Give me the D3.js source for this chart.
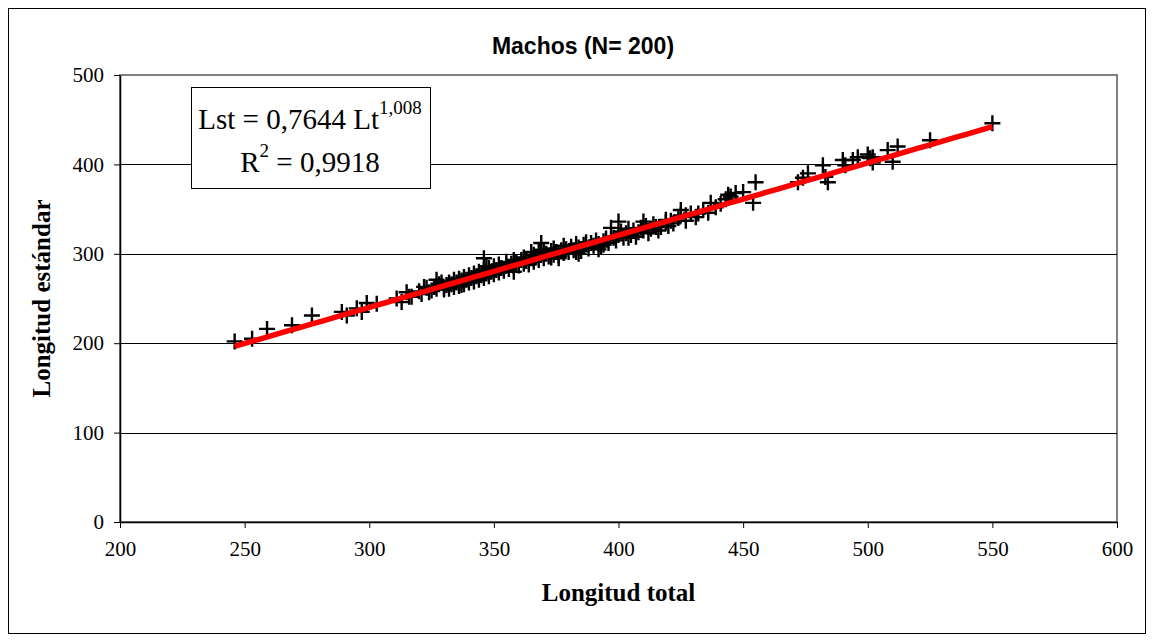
<!DOCTYPE html>
<html>
<head>
<meta charset="utf-8">
<script src="https://cdn.jsdelivr.net/npm/d3@7"></script>
<style>
  body { margin: 0; background: #fff; }
  svg { display: block; }
</style>
</head>
<body>
<svg></svg>
<script>
const width = 1154;
const height = 642;

// Longitud total (x) y longitud estándar (y)
const longitudTotal = [
  246, 253, 259, 269, 277, 289, 291, 295, 297, 299, 303, 311, 313, 315, 317,
  316, 322, 327, 330, 346, 369, 365,
  400, 397, 410, 417, 419, 425, 425, 394, 383, 376,
  427, 432, 437, 444, 447, 450, 454, 455, 472, 474, 476, 482, 484, 483,
  490, 491, 494, 496, 500, 502, 501, 502, 508, 512, 510, 525, 550,
  320, 321, 323, 324, 325, 326, 327, 328, 329, 330, 331, 332, 332, 333, 334,
  334, 335, 336, 336, 337, 338, 338, 339, 340, 340, 341, 342, 342, 343, 344,
  344, 345, 346, 346, 347, 348, 348, 349, 350, 350, 351, 352, 352, 353, 354,
  355, 355, 356, 357, 358, 358, 359, 360, 361, 362, 362, 363, 364, 365, 366,
  366, 367, 368, 368, 369, 370, 370, 371, 372, 373, 374, 374, 375, 376, 377,
  378, 378, 379, 380, 381, 382, 383, 384, 385, 386, 387, 388, 389, 390, 391,
  392, 393, 394, 395, 396, 398, 399, 400, 401, 402, 403, 404, 405, 406, 407,
  408, 409, 410, 411, 412, 413, 414, 415, 416, 419, 420, 421, 422, 424, 427,
  429, 431, 434, 436, 439, 441, 443, 445, 337, 384, 358, 392, 373, 347, 404
];
const longitudEstandar = [
  202, 205, 216, 220, 231, 235, 231, 239, 235, 245, 244, 250, 246, 257, 252,
  252, 263, 271, 260, 295, 312, 302,
  336, 329, 336, 330, 338, 343, 349, 310, 302, 295,
  343, 345, 357, 366, 368, 369, 357, 380, 380, 385, 390, 399, 380, 386,
  405, 399, 405, 408, 411, 408, 407, 402, 416, 420, 403, 427, 446,
  258, 255, 262, 257, 259, 263, 261, 266, 268, 262, 265, 261, 268, 266, 263,
  271, 268, 264, 272, 270, 266, 274, 271, 268, 276, 273, 269, 278, 275, 271,
  280, 276, 273, 282, 278, 275, 284, 280, 277, 286, 282, 279, 288, 284, 281,
  287, 291, 283, 289, 286, 293, 290, 287, 293, 289, 296, 292, 288, 295, 299,
  291, 297, 293, 302, 299, 295, 304, 300, 297, 303, 299, 306, 302, 298, 304,
  301, 309, 305, 302, 308, 304, 311, 307, 303, 310, 313, 306, 312, 309, 315,
  311, 308, 314, 317, 312, 318, 315, 321, 325, 318, 323, 328, 321, 326, 319,
  324, 329, 326, 331, 323, 328, 333, 330, 326, 335, 331, 337, 334, 340, 337,
  345, 341, 349, 346, 352, 356, 361, 364, 265, 300, 280, 305, 296, 286, 318
];
const xTicks = [200, 250, 300, 350, 400, 450, 500, 550, 600];
const yTicks = [0, 100, 200, 300, 400, 500];

// Ajuste potencial: Lst = 0,7644 Lt^1,008
const coefA = 0.7644;
const coefB = 1.008;

const points = longitudTotal.map((d, i) => ({ x: d, y: longitudEstandar[i] }));

const plot = { left: 120, right: 1117, top: 75, bottom: 522 };

const svg = d3.select('svg')
  .attr('width', width)
  .attr('height', height);

const xScale = d3.scaleLinear()
  .domain([200, 600])
  .range([plot.left, plot.right]);

const yScale = d3.scaleLinear()
  .domain([0, 500])
  .range([plot.bottom, plot.top]);

// ====================================
// Frame
// ====================================
svg.append('rect')
  .attr('x', 8.5)
  .attr('y', 8.5)
  .attr('width', width - 17)
  .attr('height', height - 17)
  .attr('fill', '#fff')
  .attr('stroke', '#000');

svg.append('rect')
  .attr('x', plot.left)
  .attr('y', plot.top)
  .attr('width', plot.right - plot.left)
  .attr('height', plot.bottom - plot.top)
  .attr('fill', '#fff')
  .attr('stroke', '#808080')
  .attr('stroke-width', 2);

// gridlines
svg.append('g')
  .selectAll('line')
  .data(yTicks.filter(d => d > 0 && d < 500))
  .enter()
  .append('line')
  .attr('x1', plot.left)
  .attr('x2', plot.right)
  .attr('y1', d => Math.round(yScale(d)) + 0.5)
  .attr('y2', d => Math.round(yScale(d)) + 0.5)
  .attr('stroke', '#000');

// ====================================
// Axes
// ====================================
const xAxis = d3.axisBottom(xScale)
  .tickValues(xTicks)
  .tickSize(6)
  .tickPadding(13)
  .tickSizeOuter(0);

const yAxis = d3.axisLeft(yScale)
  .tickValues(yTicks)
  .tickSize(6)
  .tickPadding(10)
  .tickSizeOuter(0);

const gx = svg.append('g')
  .attr('transform', `translate(0, ${plot.bottom})`)
  .call(xAxis);

const gy = svg.append('g')
  .attr('transform', `translate(${plot.left}, 0)`)
  .call(yAxis);

[gx, gy].forEach(g => {
  g.select('.domain').attr('stroke', '#000').attr('stroke-width', 1.5);
  g.selectAll('.tick line').attr('stroke', '#000');
  g.selectAll('.tick text')
    .attr('font-family', '"Liberation Serif", "Times New Roman", serif')
    .attr('font-size', 21)
    .attr('fill', '#000');
});

// ====================================
// Points and trend line
// ====================================
const plus = 'M-8,0H8M0,-8V8';

svg.append('g')
  .selectAll('path')
  .data(points)
  .enter()
  .append('path')
  .attr('d', plus)
  .attr('transform', d => `translate(${xScale(d.x)}, ${yScale(d.y)})`)
  .attr('stroke', '#000')
  .attr('stroke-width', 2.4)
  .attr('fill', 'none');

const xExtent = d3.extent(longitudTotal);
const trend = d3.range(0, 61).map(i => {
  const x = xExtent[0] + (xExtent[1] - xExtent[0]) * i / 60;
  return { x, y: coefA * Math.pow(x, coefB) };
});

svg.append('path')
  .datum(trend)
  .attr('d', d3.line().x(d => xScale(d.x)).y(d => yScale(d.y)))
  .attr('fill', 'none')
  .attr('stroke', '#ff0000')
  .attr('stroke-width', 5.5);

// ====================================
// Equation box
// ====================================
svg.append('rect')
  .attr('x', 191.5)
  .attr('y', 87.5)
  .attr('width', 239)
  .attr('height', 101)
  .attr('fill', '#fff')
  .attr('stroke', '#000');

const eq1 = svg.append('text')
  .attr('x', 310)
  .attr('y', 129)
  .attr('text-anchor', 'middle')
  .attr('font-family', '"Liberation Serif", "Times New Roman", serif')
  .attr('font-size', 29);
eq1.append('tspan').text('Lst = 0,7644 Lt');
eq1.append('tspan').attr('font-size', 19).attr('dy', -15).text('1,008');

const eq2 = svg.append('text')
  .attr('x', 310)
  .attr('y', 172)
  .attr('text-anchor', 'middle')
  .attr('font-family', '"Liberation Serif", "Times New Roman", serif')
  .attr('font-size', 29);
eq2.append('tspan').text('R');
eq2.append('tspan').attr('font-size', 19).attr('dy', -15).text('2');
eq2.append('tspan').attr('dy', 15).text(' = 0,9918');

// ====================================
// Titles
// ====================================
svg.append('text')
  .text('Machos (N= 200)')
  .attr('x', 583)
  .attr('y', 54)
  .attr('text-anchor', 'middle')
  .attr('font-family', '"Liberation Sans", Arial, sans-serif')
  .attr('font-weight', 'bold')
  .attr('font-size', 23);

svg.append('text')
  .text('Longitud total')
  .attr('x', (plot.left + plot.right) / 2)
  .attr('y', 601)
  .attr('text-anchor', 'middle')
  .attr('font-family', '"Liberation Serif", "Times New Roman", serif')
  .attr('font-weight', 'bold')
  .attr('font-size', 25);

svg.append('text')
  .text('Longitud estándar')
  .attr('transform', `translate(50, ${(plot.top + plot.bottom) / 2}) rotate(-90)`)
  .attr('text-anchor', 'middle')
  .attr('font-family', '"Liberation Serif", "Times New Roman", serif')
  .attr('font-weight', 'bold')
  .attr('font-size', 25);
</script>
</body>
</html>
